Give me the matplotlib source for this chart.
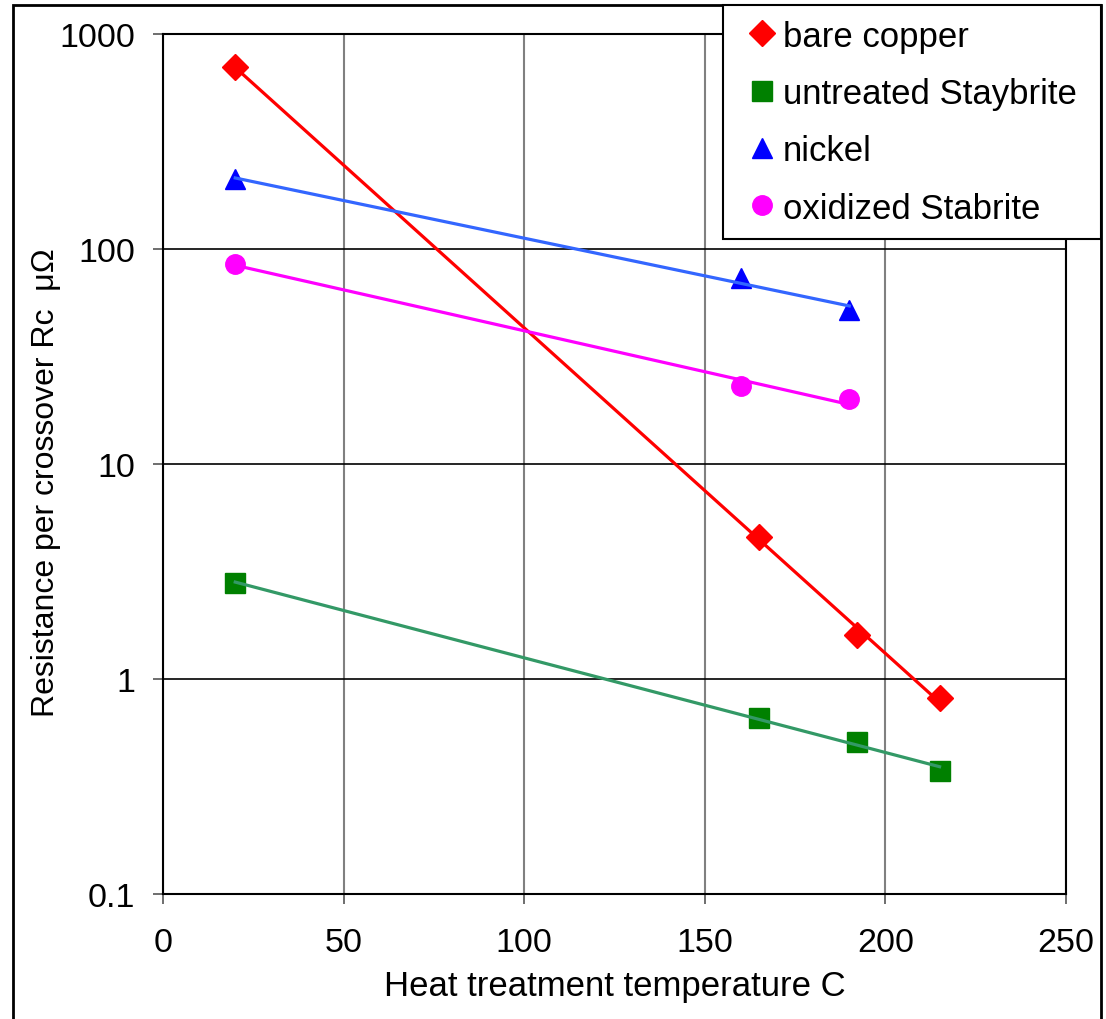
import numpy as np
import matplotlib.pyplot as plt
from matplotlib.patches import Rectangle

plt.rcParams['font.family'] = ['Liberation Sans', 'DejaVu Sans']

# measured points
copper_x = [20, 165, 192, 215]
copper_y = [700, 4.6, 1.6, 0.82]
stay_x = [20, 165, 192, 215]
stay_y = [2.8, 0.66, 0.51, 0.375]
nickel_x = [20, 160, 190]
nickel_y = [212, 73, 52]
oxid_x = [20, 160, 190]
oxid_y = [85, 23, 20]

series = [
    ("bare copper", copper_x, copper_y, 'D', 'red', 'red', 13),
    ("untreated Staybrite ", stay_x, stay_y, 's', 'green', '#339966', 14),
    ("nickel", nickel_x, nickel_y, '^', 'blue', '#3366ff', 14),
    ("oxidized Stabrite", oxid_x, oxid_y, 'o', 'magenta', 'magenta', 14),
]

fig = plt.figure(figsize=(11.06, 10.20), dpi=100)
ax = fig.add_axes([163/1106, 1-895/1020, (1066-163)/1106, (895-35)/1020])

for name, xs, ys, mk, mcol, lcol, ms in series:
    ax.plot(xs, ys, linestyle='none', marker=mk, color=mcol, markersize=ms,
            label=name, zorder=3)
    # exponential trendline like the spreadsheet one
    k, b = np.polyfit(xs, np.log(ys), 1)
    tx = np.linspace(min(xs), max(xs), 50)
    ax.plot(tx, np.exp(b + k*tx), color=lcol, lw=2.3, zorder=4)

ax.set_yscale('log')
ax.set_ylim(0.1, 1000)
ax.set_xlim(0, 250)
ax.set_xticks([0, 50, 100, 150, 200, 250])
ax.set_yticks([0.1, 1, 10, 100, 1000])
ax.set_yticklabels(['0.1', '1', '10', '100', '1000'])
ax.yaxis.set_minor_locator(plt.NullLocator())
ax.grid(axis='y', color='black', lw=1.2)
ax.grid(axis='x', color='gray', lw=1.5)
ax.set_axisbelow(True)
for s in ax.spines.values():
    s.set_linewidth(1.5)
ax.tick_params(labelsize=24.5, length=7, width=1.2, color='#555555')
ax.tick_params(axis='y', pad=13)
ax.tick_params(axis='x', pad=17)

ax.set_xlabel("Heat treatment temperature C", fontsize=25, labelpad=8)
ax.set_ylabel("Resistance per crossover Rc  μΩ", fontsize=23)
ax.yaxis.set_label_coords(-0.113, 0.48)

leg = fig.legend(loc='upper right', bbox_to_anchor=(1101/1106, 1-6/1020),
                 fontsize=25, frameon=True, fancybox=False, framealpha=1,
                 edgecolor='black', borderaxespad=0, labelspacing=0.7,
                 handletextpad=-0.1, handlelength=1.4, borderpad=0.42)
leg.get_frame().set_linewidth(1.5)

fig.patches.append(Rectangle((13/1106, -0.01), (1101-13)/1106, 1-6/1020+0.01,
                             transform=fig.transFigure, fill=False,
                             edgecolor='black', lw=2, zorder=0))

fig.savefig('out.png', dpi=100)
